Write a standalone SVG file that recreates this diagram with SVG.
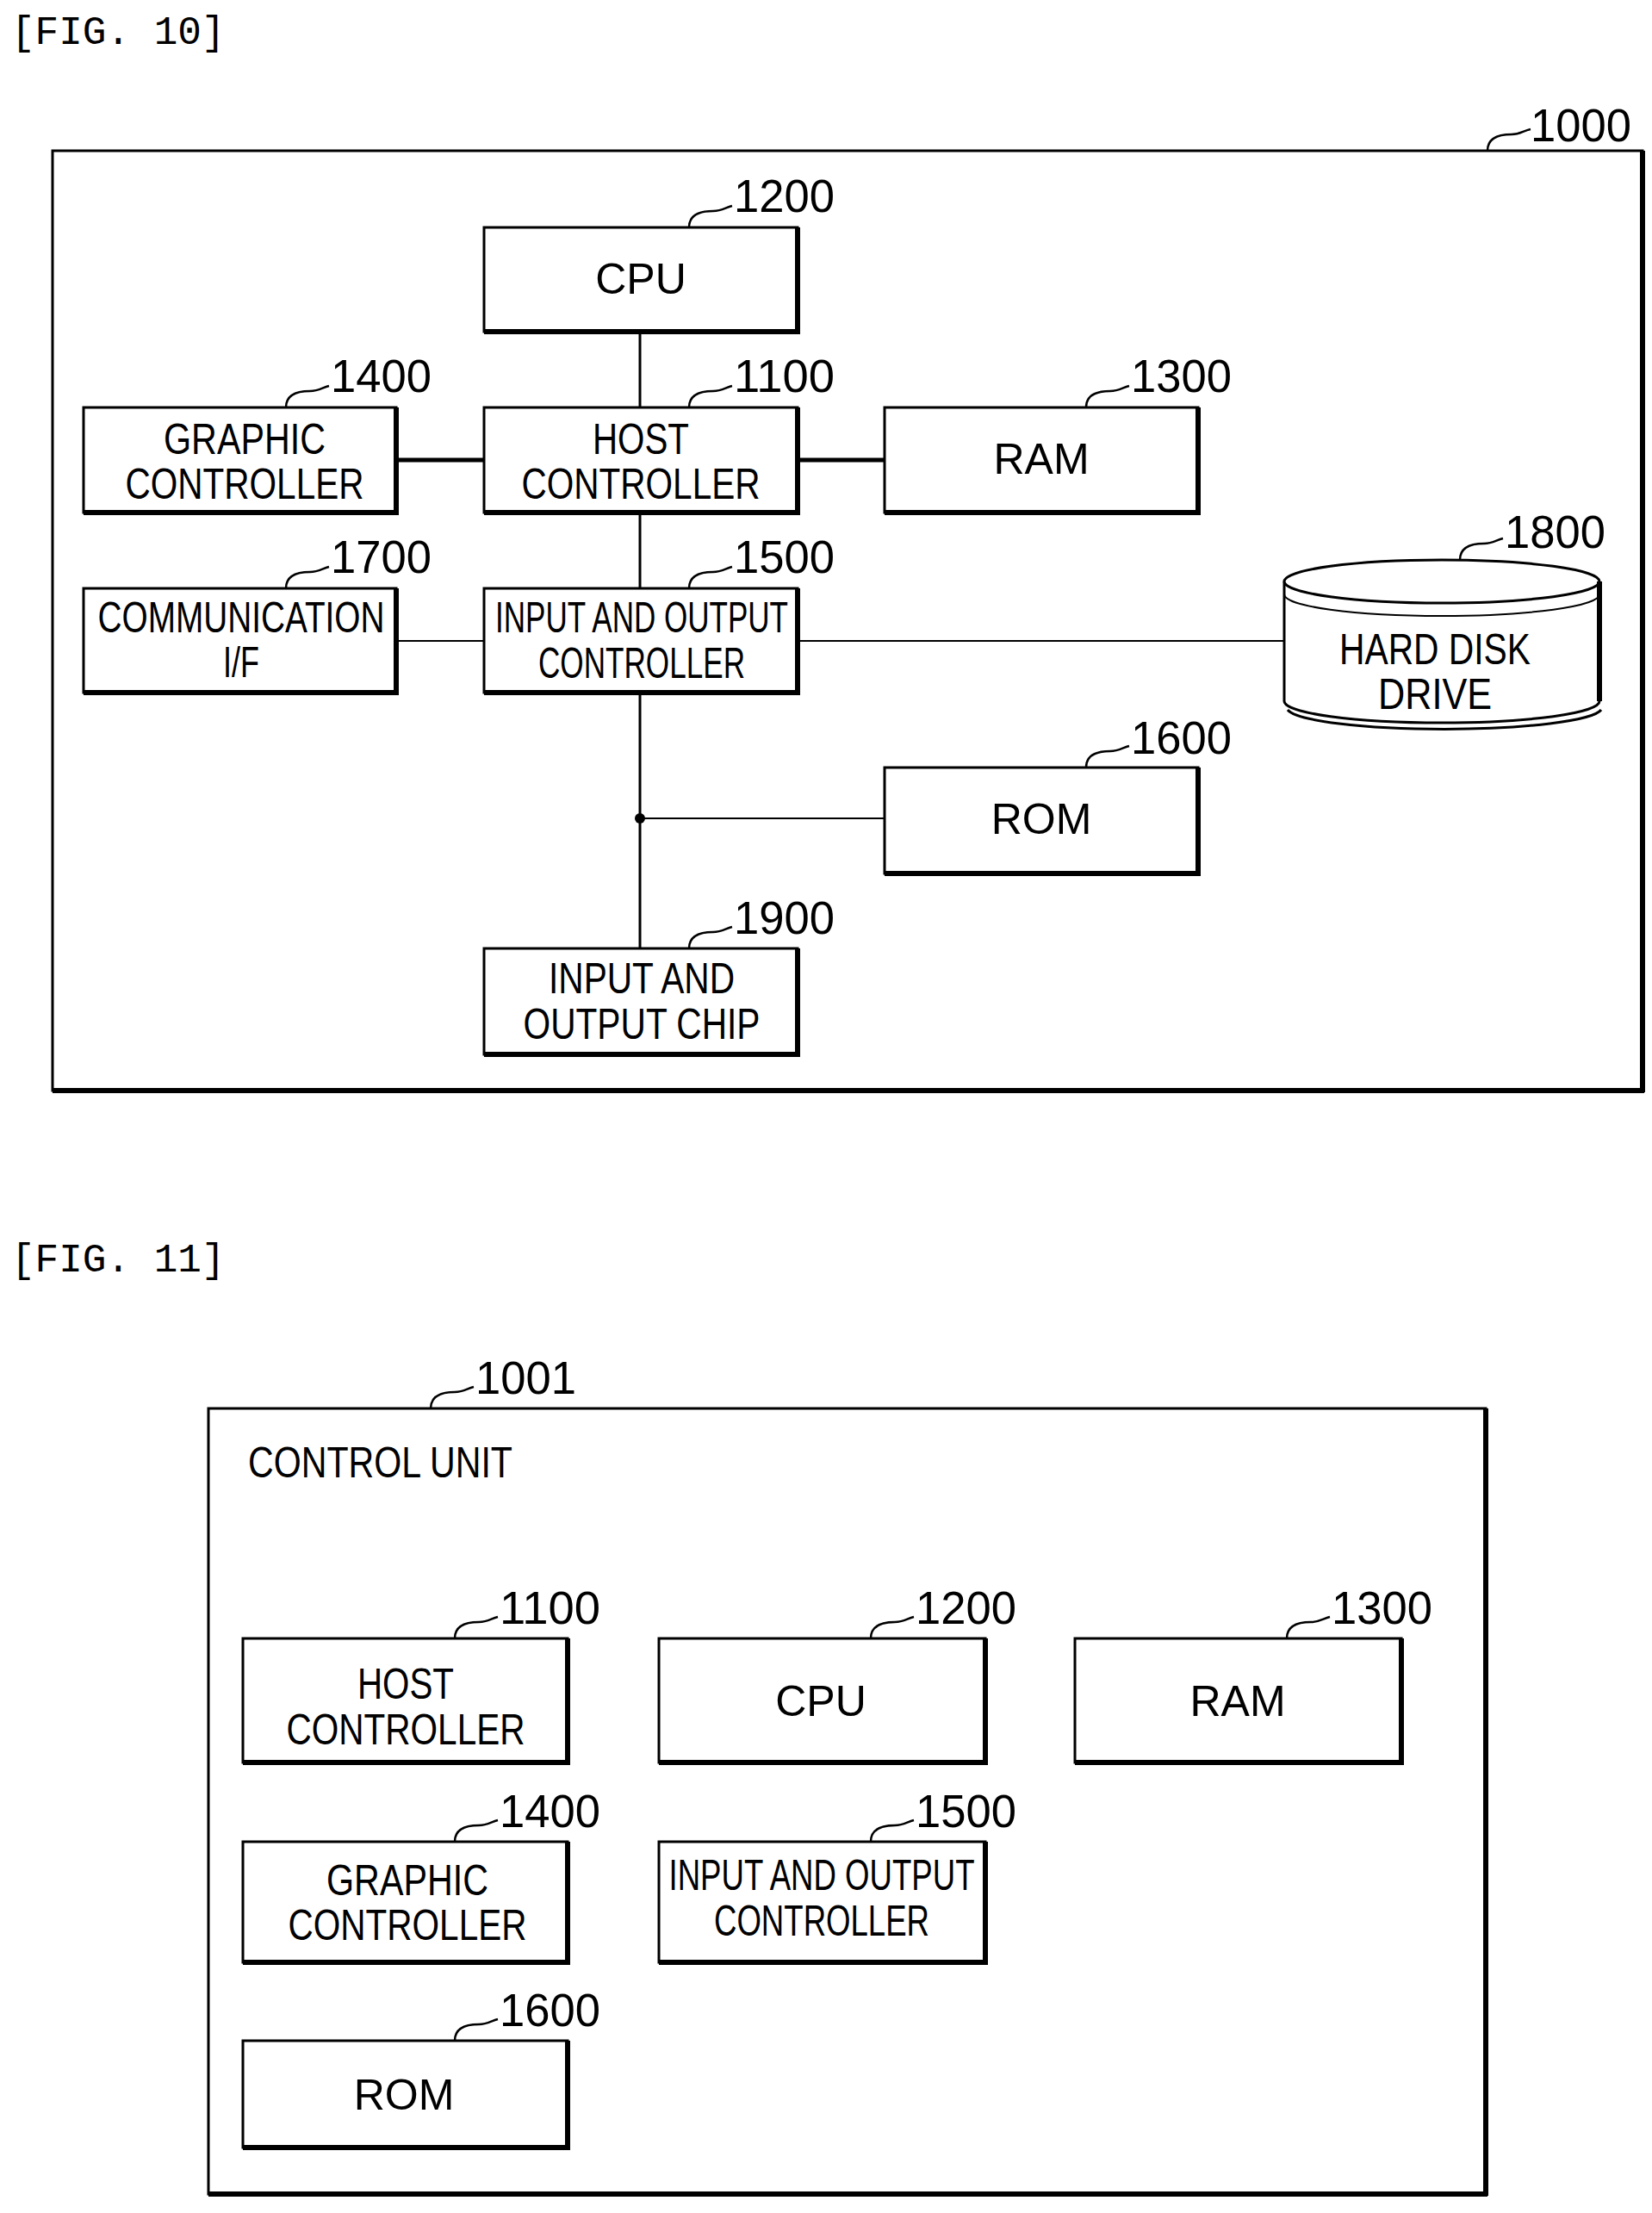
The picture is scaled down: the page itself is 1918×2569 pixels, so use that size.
<svg xmlns="http://www.w3.org/2000/svg" width="1918" height="2569" viewBox="0 0 1918 2569">
<style>
.bx{fill:#fff;stroke:#000;stroke-width:3}
.sh{fill:none;stroke:#000;stroke-width:6}
.t{font-family:"Liberation Sans",Arial,sans-serif;font-size:50px;text-anchor:middle;fill:#000}
.n{font-family:"Liberation Sans",Arial,sans-serif;font-size:54px;fill:#000}
.f{font-family:"Liberation Mono","Courier New",monospace;font-size:46px;fill:#000}
.ld{fill:none;stroke:#000;stroke-width:2.5}
.c{stroke:#000;fill:none}
</style>
<rect width="1918" height="2569" fill="#fff"/>
<text class="f" x="13" y="51">[FIG. 10]</text>
<g id="n1000">
<rect x="61" y="175" width="1846" height="1091" fill="none" stroke="#000" stroke-width="3"/>
<path class="sh" d="M1907,175 V1268 M61,1266 H1909"/>
<path class="ld" d="M1727,175 C1727,160 1740,156 1755,156 C1765,156 1768,152 1777,150"/>
<text class="n" x="1777" y="164" textLength="117" lengthAdjust="spacingAndGlyphs">1000</text>
</g>
<g id="connectors">
<path class="c" stroke-width="3" d="M743,385 V473 M743,595 V683 M743,804 V1101"/>
<path class="c" stroke-width="5" d="M460,534 H562 M926,534 H1027"/>
<path class="c" stroke-width="2" d="M460,744 H562 M926,744 H1491 M743,950 H1027"/>
<circle cx="743" cy="950" r="6" fill="#000"/>
</g>
<g id="n1200"><rect class="bx" x="562" y="264" width="364" height="121"/><path class="sh" d="M926,264 V388 M562,385 H929"/><text class="t" x="744" y="341">CPU</text><path class="ld" d="M800,264 C800,249 813,245 828,245 C838,245 842,241 850,239"/><text class="n" x="852" y="246" textLength="117" lengthAdjust="spacingAndGlyphs">1200</text></g>
<g id="n1100"><rect class="bx" x="562" y="473" width="364" height="122"/><path class="sh" d="M926,473 V598 M562,595 H929"/><text class="t" x="744" y="527" textLength="112" lengthAdjust="spacingAndGlyphs">HOST</text><text class="t" x="744" y="579" textLength="277" lengthAdjust="spacingAndGlyphs">CONTROLLER</text><path class="ld" d="M800,473 C800,458 813,454 828,454 C838,454 842,450 850,448"/><text class="n" x="852" y="455" textLength="117" lengthAdjust="spacingAndGlyphs">1100</text></g>
<g id="n1400"><rect class="bx" x="97" y="473" width="363" height="122"/><path class="sh" d="M460,473 V598 M97,595 H463"/><text class="t" x="284" y="527" textLength="188" lengthAdjust="spacingAndGlyphs">GRAPHIC</text><text class="t" x="284" y="579" textLength="277" lengthAdjust="spacingAndGlyphs">CONTROLLER</text><path class="ld" d="M332,473 C332,458 345,454 360,454 C370,454 374,450 382,448"/><text class="n" x="384" y="455" textLength="117" lengthAdjust="spacingAndGlyphs">1400</text></g>
<g id="n1300"><rect class="bx" x="1027" y="473" width="364" height="122"/><path class="sh" d="M1391,473 V598 M1027,595 H1394"/><text class="t" x="1209" y="550">RAM</text><path class="ld" d="M1261,473 C1261,458 1274,454 1289,454 C1299,454 1303,450 1311,448"/><text class="n" x="1313" y="455" textLength="117" lengthAdjust="spacingAndGlyphs">1300</text></g>
<g id="n1700"><rect class="bx" x="97" y="683" width="363" height="121"/><path class="sh" d="M460,683 V807 M97,804 H463"/><text class="t" x="280" y="734" font-size="45" textLength="333" lengthAdjust="spacingAndGlyphs">COMMUNICATION</text><text class="t" x="280" y="786" font-size="45" textLength="42" lengthAdjust="spacingAndGlyphs">I/F</text><path class="ld" d="M332,683 C332,668 345,664 360,664 C370,664 374,660 382,658"/><text class="n" x="384" y="665" textLength="117" lengthAdjust="spacingAndGlyphs">1700</text></g>
<g id="n1500"><rect class="bx" x="562" y="683" width="364" height="121"/><path class="sh" d="M926,683 V807 M562,804 H929"/><text class="t" x="745" y="734" font-size="45" textLength="340" lengthAdjust="spacingAndGlyphs">INPUT AND OUTPUT</text><text class="t" x="745" y="787" font-size="45" textLength="240" lengthAdjust="spacingAndGlyphs">CONTROLLER</text><path class="ld" d="M800,683 C800,668 813,664 828,664 C838,664 842,660 850,658"/><text class="n" x="852" y="665" textLength="117" lengthAdjust="spacingAndGlyphs">1500</text></g>
<g id="n1800"><path d="M1491,675 V814 A183,25 0 0 0 1857,814 V675" fill="#fff" stroke="#000" stroke-width="3"/><path d="M1495,824 A183,25 0 0 0 1859,824" fill="none" stroke="#000" stroke-width="3"/><ellipse cx="1674" cy="675" rx="183" ry="25" fill="#fff" stroke="#000" stroke-width="3"/><path d="M1491,690 A183,25 0 0 0 1857,690" fill="none" stroke="#000" stroke-width="2"/><path class="sh" d="M1857,675 V814"/><text class="t" x="1666" y="771" textLength="222" lengthAdjust="spacingAndGlyphs">HARD DISK</text><text class="t" x="1666" y="823" textLength="132" lengthAdjust="spacingAndGlyphs">DRIVE</text><path class="ld" d="M1695,650 C1695,635 1708,631 1723,631 C1733,631 1737,627 1745,625"/><text class="n" x="1747" y="636" textLength="117" lengthAdjust="spacingAndGlyphs">1800</text></g>
<g id="n1600"><rect class="bx" x="1027" y="891" width="364" height="123"/><path class="sh" d="M1391,891 V1017 M1027,1014 H1394"/><text class="t" x="1209" y="968">ROM</text><path class="ld" d="M1261,891 C1261,876 1274,872 1289,872 C1299,872 1303,868 1311,866"/><text class="n" x="1313" y="875" textLength="117" lengthAdjust="spacingAndGlyphs">1600</text></g>
<g id="n1900"><rect class="bx" x="562" y="1101" width="364" height="123"/><path class="sh" d="M926,1101 V1227 M562,1224 H929"/><text class="t" x="745" y="1153" textLength="216" lengthAdjust="spacingAndGlyphs">INPUT AND</text><text class="t" x="745" y="1206" textLength="275" lengthAdjust="spacingAndGlyphs">OUTPUT CHIP</text><path class="ld" d="M800,1101 C800,1086 813,1082 828,1082 C838,1082 842,1078 850,1076"/><text class="n" x="852" y="1084" textLength="117" lengthAdjust="spacingAndGlyphs">1900</text></g>

<text class="f" x="13" y="1476">[FIG. 11]</text>
<g id="n1001">
<rect x="242" y="1635" width="1483" height="912" fill="none" stroke="#000" stroke-width="3"/>
<path class="sh" d="M1725,1635 V2549 M242,2547 H1727"/>
<path class="ld" d="M500,1635 C500,1620 513,1616 528,1616 C538,1616 542,1612 550,1610"/>
<text class="n" x="552" y="1618" textLength="117" lengthAdjust="spacingAndGlyphs">1001</text>
<text class="t" x="288" y="1715" style="text-anchor:start" textLength="307" lengthAdjust="spacingAndGlyphs">CONTROL UNIT</text>
</g>
<g id="f11n1100"><rect class="bx" x="282" y="1902" width="377" height="144"/><path class="sh" d="M659,1902 V2049 M282,2046 H662"/><text class="t" x="471" y="1972" textLength="112" lengthAdjust="spacingAndGlyphs">HOST</text><text class="t" x="471" y="2025" textLength="277" lengthAdjust="spacingAndGlyphs">CONTROLLER</text><path class="ld" d="M528,1902 C528,1887 541,1883 556,1883 C566,1883 570,1879 578,1877"/><text class="n" x="580" y="1885" textLength="117" lengthAdjust="spacingAndGlyphs">1100</text></g>
<g id="f11n1200"><rect class="bx" x="765" y="1902" width="379" height="144"/><path class="sh" d="M1144,1902 V2049 M765,2046 H1147"/><text class="t" x="953" y="1992">CPU</text><path class="ld" d="M1011,1902 C1011,1887 1024,1883 1039,1883 C1049,1883 1053,1879 1061,1877"/><text class="n" x="1063" y="1885" textLength="117" lengthAdjust="spacingAndGlyphs">1200</text></g>
<g id="f11n1300"><rect class="bx" x="1248" y="1902" width="379" height="144"/><path class="sh" d="M1627,1902 V2049 M1248,2046 H1630"/><text class="t" x="1437" y="1992">RAM</text><path class="ld" d="M1494,1902 C1494,1887 1507,1883 1522,1883 C1532,1883 1536,1879 1544,1877"/><text class="n" x="1546" y="1885" textLength="117" lengthAdjust="spacingAndGlyphs">1300</text></g>
<g id="f11n1400"><rect class="bx" x="282" y="2138" width="377" height="140"/><path class="sh" d="M659,2138 V2281 M282,2278 H662"/><text class="t" x="473" y="2200" textLength="188" lengthAdjust="spacingAndGlyphs">GRAPHIC</text><text class="t" x="473" y="2252" textLength="277" lengthAdjust="spacingAndGlyphs">CONTROLLER</text><path class="ld" d="M528,2138 C528,2123 541,2119 556,2119 C566,2119 570,2115 578,2113"/><text class="n" x="580" y="2121" textLength="117" lengthAdjust="spacingAndGlyphs">1400</text></g>
<g id="f11n1500"><rect class="bx" x="765" y="2138" width="379" height="140"/><path class="sh" d="M1144,2138 V2281 M765,2278 H1147"/><text class="t" x="954" y="2194" font-size="45" textLength="355" lengthAdjust="spacingAndGlyphs">INPUT AND OUTPUT</text><text class="t" x="954" y="2247" font-size="45" textLength="250" lengthAdjust="spacingAndGlyphs">CONTROLLER</text><path class="ld" d="M1011,2138 C1011,2123 1024,2119 1039,2119 C1049,2119 1053,2115 1061,2113"/><text class="n" x="1063" y="2121" textLength="117" lengthAdjust="spacingAndGlyphs">1500</text></g>
<g id="f11n1600"><rect class="bx" x="282" y="2369" width="377" height="124"/><path class="sh" d="M659,2369 V2496 M282,2493 H662"/><text class="t" x="469" y="2449">ROM</text><path class="ld" d="M528,2369 C528,2354 541,2350 556,2350 C566,2350 570,2346 578,2344"/><text class="n" x="580" y="2352" textLength="117" lengthAdjust="spacingAndGlyphs">1600</text></g>
</svg>
